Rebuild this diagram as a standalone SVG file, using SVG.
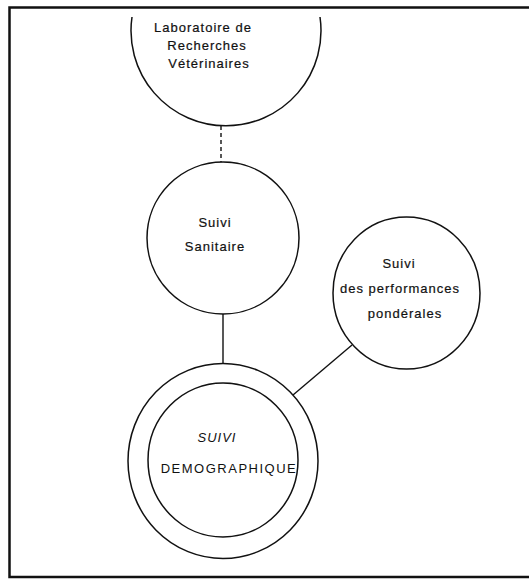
<svg xmlns="http://www.w3.org/2000/svg" width="529" height="580" viewBox="0 0 529 580">
<style>
.n{fill:none;stroke:#111;stroke-width:1.5}
.c{fill:none;stroke:#111;stroke-width:1.4}
text{font-family:"Liberation Sans",Arial,sans-serif;font-size:13px;fill:#111;stroke:#111;stroke-width:0.2;text-anchor:middle;letter-spacing:1px}
.caps{stroke-width:0}
</style>
<rect x="0" y="0" width="529" height="580" fill="#fff"/>
<path d="M545,7.5 H9.5 V577 H545" fill="none" stroke="#111" stroke-width="2.5"/>
<g id="connectors">
<line class="c" x1="221" y1="126" x2="221" y2="162" stroke-dasharray="4,3"/>
<line class="c" x1="223" y1="314" x2="223" y2="363.5"/>
<line class="c" x1="352" y1="345" x2="293" y2="395"/>
</g>
<g id="labo">
<path class="n" d="M132,17 A95,95 0 1 0 320,17"/>
<text x="203" y="31.5">Laboratoire de</text>
<text x="207" y="49.5">Recherches</text>
<text x="209" y="67.5">Vétérinaires</text>
</g>
<g id="sanitaire">
<circle class="n" cx="223" cy="238" r="76"/>
<text x="215" y="226.5">Suivi</text>
<text x="215" y="250.5">Sanitaire</text>
</g>
<g id="performances">
<ellipse class="n" cx="406.5" cy="293" rx="73.5" ry="76"/>
<text x="399" y="267.5">Suivi</text>
<text x="400" y="292.5">des performances</text>
<text x="405" y="317.5">pondérales</text>
</g>
<g id="demographique">
<ellipse class="n" cx="223" cy="461" rx="95" ry="97.5"/>
<ellipse class="n" cx="223" cy="460" rx="75" ry="77"/>
<text class="caps" x="217" y="441.5" font-style="italic">SUIVI</text>
<text class="caps" x="229" y="472.5" style="letter-spacing:1.5px">DEMOGRAPHIQUE</text>
</g>
</svg>
